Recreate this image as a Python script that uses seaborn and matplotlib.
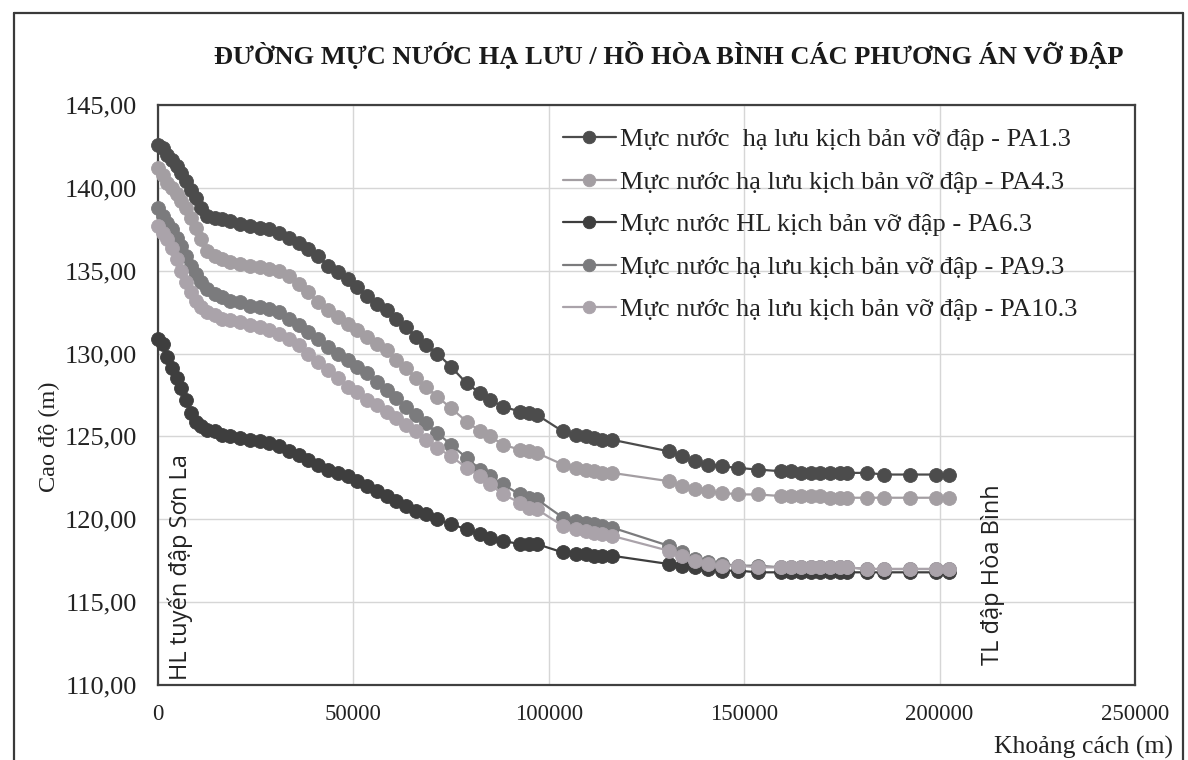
import matplotlib
matplotlib.use("Agg")
import matplotlib.pyplot as plt
from matplotlib.ticker import FuncFormatter, MultipleLocator
from matplotlib.lines import Line2D
import pandas as pd
import seaborn as sns

# Stations along the river (m) and water levels (m) for each dam-break case
distance_m = [
    0, 1200, 2400, 3600, 4800, 6000, 7200, 8400, 9600, 11000,
    12500, 14500, 16500, 18500, 21000, 23500, 26000, 28500, 31000, 33500,
    36000, 38500, 41000, 43500, 46000, 48500, 51000, 53500, 56000, 58500,
    61000, 63500, 66000, 68500, 71500, 75000, 79000, 82500, 85000, 88300,
    92600, 95000, 97000, 103600, 107000, 109500, 111500, 113700, 116200, 130700,
    134000, 137400, 140700, 144200, 148500, 153500, 159400, 161900, 164500, 167000,
    169500, 172000, 174600, 176300, 181500, 185800, 192400, 199200, 202500,
]

pa1_3 = [
    142.6, 142.4, 142.0, 141.7, 141.3, 140.9, 140.4, 139.9, 139.4, 138.8,
    138.3, 138.2, 138.1, 138.0, 137.8, 137.7, 137.6, 137.5, 137.3, 137.0,
    136.7, 136.3, 135.9, 135.3, 134.9, 134.5, 134.0, 133.5, 133.0, 132.6,
    132.1, 131.6, 131.0, 130.5, 130.0, 129.2, 128.2, 127.6, 127.2, 126.8,
    126.5, 126.4, 126.3, 125.3, 125.1, 125.0, 124.9, 124.8, 124.8, 124.1,
    123.8, 123.5, 123.3, 123.2, 123.1, 123.0, 122.9, 122.9, 122.8, 122.8,
    122.8, 122.8, 122.8, 122.8, 122.8, 122.7, 122.7, 122.7, 122.7,
]

pa4_3 = [
    141.2, 140.8, 140.3, 140.0, 139.6, 139.2, 138.8, 138.2, 137.6, 136.9,
    136.2, 135.9, 135.7, 135.5, 135.4, 135.3, 135.2, 135.1, 135.0, 134.7,
    134.2, 133.7, 133.1, 132.6, 132.2, 131.8, 131.4, 131.0, 130.6, 130.2,
    129.6, 129.1, 128.5, 128.0, 127.4, 126.7, 125.9, 125.3, 125.0, 124.5,
    124.2, 124.1, 124.0, 123.3, 123.1, 123.0, 122.9, 122.8, 122.8, 122.3,
    122.0, 121.8, 121.7, 121.6, 121.5, 121.5, 121.4, 121.4, 121.4, 121.4,
    121.4, 121.3, 121.3, 121.3, 121.3, 121.3, 121.3, 121.3, 121.3,
]

pa6_3 = [
    130.9, 130.6, 129.8, 129.1, 128.5, 127.9, 127.2, 126.4, 125.9, 125.6,
    125.4, 125.3, 125.1, 125.0, 124.9, 124.8, 124.7, 124.6, 124.4, 124.1,
    123.9, 123.6, 123.3, 123.0, 122.8, 122.6, 122.3, 122.0, 121.7, 121.4,
    121.1, 120.8, 120.5, 120.3, 120.0, 119.7, 119.4, 119.1, 118.9, 118.7,
    118.5, 118.5, 118.5, 118.0, 117.9, 117.9, 117.8, 117.8, 117.8, 117.3,
    117.2, 117.1, 117.0, 116.9, 116.9, 116.8, 116.8, 116.8, 116.8, 116.8,
    116.8, 116.8, 116.8, 116.8, 116.8, 116.8, 116.8, 116.8, 116.8,
]

pa9_3 = [
    138.8, 138.3, 137.9, 137.5, 137.0, 136.5, 135.9, 135.3, 134.8, 134.3,
    133.9, 133.6, 133.4, 133.2, 133.1, 132.9, 132.8, 132.7, 132.5, 132.1,
    131.7, 131.3, 130.9, 130.4, 130.0, 129.6, 129.2, 128.8, 128.3, 127.8,
    127.3, 126.8, 126.3, 125.8, 125.2, 124.5, 123.7, 123.0, 122.6, 122.1,
    121.5, 121.3, 121.2, 120.1, 119.9, 119.8, 119.7, 119.6, 119.5, 118.4,
    118.0, 117.6, 117.4, 117.3, 117.2, 117.2, 117.1, 117.1, 117.1, 117.1,
    117.1, 117.1, 117.1, 117.1, 117.0, 117.0, 117.0, 117.0, 117.0,
]

pa10_3 = [
    137.7, 137.3, 136.9, 136.4, 135.7, 135.0, 134.3, 133.7, 133.2, 132.8,
    132.5, 132.3, 132.1, 132.0, 131.9, 131.7, 131.6, 131.4, 131.2, 130.9,
    130.5, 130.0, 129.5, 129.0, 128.5, 128.0, 127.7, 127.2, 126.9, 126.5,
    126.1, 125.7, 125.3, 124.8, 124.3, 123.8, 123.1, 122.6, 122.1, 121.5,
    121.0, 120.7, 120.6, 119.6, 119.4, 119.3, 119.2, 119.1, 119.0, 118.1,
    117.8, 117.5, 117.3, 117.2, 117.2, 117.1, 117.1, 117.1, 117.1, 117.1,
    117.1, 117.1, 117.1, 117.1, 117.0, 117.0, 117.0, 117.0, 117.0,
]

series_labels = [
    "Mực nước  hạ lưu kịch bản vỡ đập - PA1.3",
    "Mực nước hạ lưu kịch bản vỡ đập - PA4.3",
    "Mực nước HL kịch bản vỡ đập - PA6.3",
    "Mực nước hạ lưu kịch bản vỡ đập - PA9.3",
    "Mực nước hạ lưu kịch bản vỡ đập - PA10.3",
]
series_values = [pa1_3, pa4_3, pa6_3, pa9_3, pa10_3]
series_colors = ["#4c4c4c", "#a39ea2", "#3e3e3e", "#7b7b7d", "#aaa3aa"]

title_text = "ĐƯỜNG MỰC NƯỚC HẠ LƯU / HỒ HÒA BÌNH CÁC PHƯƠNG ÁN VỠ ĐẬP"
x_title = "Khoảng cách (m)"
y_title = "Cao độ (m)"
upstream_note = "HL tuyến đập Sơn La"
downstream_note = "TL đập Hòa Bình"

sns.set_theme(style="white")
serif = ["Liberation Serif", "DejaVu Serif"]
sans = ["Open Sans", "DejaVu Sans"]
plt.rcParams["font.family"] = serif

W, H = 1188, 760
fig = plt.figure(figsize=(W / 100, H / 100), dpi=100)
fig.patch.set_facecolor("white")

# plot area in pixel terms
L, R, T, B = 158, 1135, 105, 685
ax = fig.add_axes([L / W, 1 - B / H, (R - L) / W, (B - T) / H])
ax.set_facecolor("white")

rows = []
for lab, vals in zip(series_labels, series_values):
    for d, v in zip(distance_m, vals):
        rows.append({"distance": d, "level": v, "series": lab})
df = pd.DataFrame(rows)

for lab, col in zip(series_labels, series_colors):
    sub = df[df["series"] == lab]
    sns.lineplot(data=sub, x="distance", y="level", ax=ax, color=col,
                 marker="o", markersize=10, markeredgecolor=col,
                 markeredgewidth=0.6, linewidth=1.6, sort=False,
                 estimator=None, label=lab, clip_on=False, zorder=3)

ax.set_xlim(0, 250000)
ax.set_ylim(110, 145)
ax.xaxis.set_major_locator(MultipleLocator(50000))
ax.yaxis.set_major_locator(MultipleLocator(5))
ax.yaxis.set_major_formatter(FuncFormatter(lambda v, p: f"{v:.2f}".replace(".", ",")))
ax.xaxis.set_major_formatter(FuncFormatter(lambda v, p: f"{int(v)}"))
ax.grid(True, color="#d6d6d6", linewidth=1.0)
ax.set_axisbelow(True)
for s in ax.spines.values():
    s.set_color("#404040")
    s.set_linewidth(1.6)
    s.set_zorder(2)

ax.tick_params(axis="y", length=0, pad=15, labelsize=19, labelcolor="#222222")
ax.tick_params(axis="x", length=0, pad=14, labelsize=16.5, labelcolor="#222222")

ax.set_xlabel(x_title, fontsize=18.5, color="#222222", ha="right", va="center")
ax.xaxis.set_label_coords((1173 - L) / (R - L), (B - 747) / (B - T))
ax.set_ylabel(y_title, fontsize=17.5, color="#222222", va="center", ha="center")
ax.yaxis.set_label_coords((49 - L) / (R - L), (B - 437) / (B - T))

leg = ax.legend(loc="upper left",
                bbox_to_anchor=((563 - L) / (R - L), (B - 128) / (B - T)),
                frameon=False, fontsize=19, handlelength=2.0,
                handletextpad=0.15, labelspacing=0.72, borderpad=0,
                borderaxespad=0)
for t in leg.get_texts():
    t.set_color("#222222")
for h in leg.legend_handles:
    h.set_markersize(9)

ax.text((180 - L) / (R - L), (B - 680) / (B - T), upstream_note,
        rotation=90, ha="center", va="bottom", fontsize=17,
        family=sans, color="#222222", transform=ax.transAxes)
ax.text((993 - L) / (R - L), (B - 665) / (B - T), downstream_note,
        rotation=90, ha="center", va="bottom", fontsize=17,
        family=sans, color="#222222", transform=ax.transAxes)

fig.text(669 / W, 1 - 55 / H, title_text, ha="center", va="center",
         fontsize=19, fontweight="bold", color="#1a1a1a")

# outer chart border
for xs, ys in [([14 / W, 1183 / W], [1 - 13 / H, 1 - 13 / H]),
               ([14 / W, 14 / W], [1 - 13 / H, 0]),
               ([1183 / W, 1183 / W], [1 - 13 / H, 0])]:
    fig.add_artist(Line2D(xs, ys, color="#3a3a3a", linewidth=1.6,
                          transform=fig.transFigure))

fig.savefig("out.png", dpi=100, facecolor="white")
